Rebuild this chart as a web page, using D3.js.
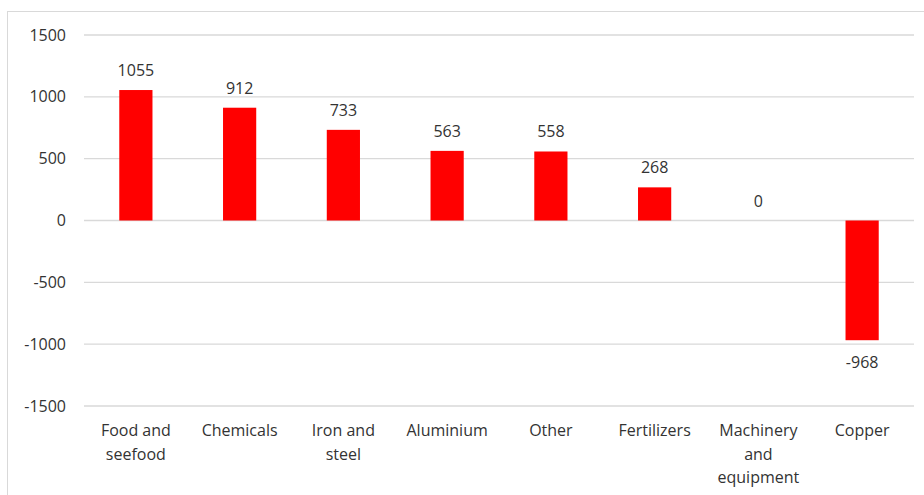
<!DOCTYPE html>
<html>
<head>
<meta charset="utf-8">
<script src="https://cdn.jsdelivr.net/npm/d3@7"></script>
<style>
  html, body { margin: 0; padding: 0; background: #fff; }
  svg { display: block; font-family: "Open Sans", "Noto Sans", sans-serif; }
</style>
</head>
<body>
<svg id="chart" width="924" height="495"></svg>
<script>
// Net change by product group
const categories = [
  ["Food and", "seefood"],
  ["Chemicals"],
  ["Iron and", "steel"],
  ["Aluminium"],
  ["Other"],
  ["Fertilizers"],
  ["Machinery", "and", "equipment"],
  ["Copper"]
];
const values = [1055, 912, 733, 563, 558, 268, 0, -968];
const yTicks = [-1500, -1000, -500, 0, 500, 1000, 1500];

const svg = d3.select("#chart");
const W = 924, H = 495;
const plotLeft = 84, plotRight = 914, plotTop = 35, plotBottom = 406;
const fontSize = 16;
const textColor = "#333";

// chart area frame
svg.append("rect")
  .attr("x", 7.5).attr("y", 11.5)
  .attr("width", W).attr("height", H)
  .attr("fill", "#fff").attr("stroke", "#d9d9d9").attr("stroke-width", 1);

const x = d3.scaleBand()
  .domain(d3.range(categories.length))
  .range([plotLeft, plotRight])
  .paddingInner(0.68)
  .paddingOuter(0.34);

const y = d3.scaleLinear().domain([-1500, 1500]).range([plotBottom, plotTop]);

// gridlines
svg.append("g")
  .selectAll("line")
  .data(yTicks)
  .join("line")
  .attr("x1", plotLeft).attr("x2", plotRight)
  .attr("y1", d => y(d)).attr("y2", d => y(d))
  .attr("stroke", "#d9d9d9").attr("stroke-width", 1.3);

// y axis labels (plain hyphen for negatives)
const yAxis = d3.axisLeft(y).tickValues(yTicks).tickSize(0).tickPadding(0).tickFormat(d => String(d));
const yg = svg.append("g").attr("transform", `translate(${plotLeft - 18},0)`).call(yAxis);
yg.select(".domain").remove();
yg.selectAll("text")
  .attr("font-size", fontSize)
  .attr("font-family", "'Open Sans', 'Noto Sans', sans-serif")
  .attr("fill", textColor);

// bars
svg.append("g")
  .selectAll("rect")
  .data(values)
  .join("rect")
  .attr("x", (d, i) => x(i))
  .attr("width", x.bandwidth())
  .attr("y", d => y(Math.max(0, d)))
  .attr("height", d => Math.abs(y(d) - y(0)))
  .attr("fill", "#ff0000");

// value labels
svg.append("g")
  .selectAll("text")
  .data(values)
  .join("text")
  .attr("x", (d, i) => x(i) + x.bandwidth() / 2)
  .attr("y", d => d >= 0 ? y(d) - 14 : y(d) + 28)
  .attr("text-anchor", "middle")
  .attr("font-size", fontSize)
  .attr("fill", textColor)
  .text(d => d);

// category labels
const xl = svg.append("g")
  .selectAll("text")
  .data(categories)
  .join("text")
  .attr("x", (d, i) => x(i) + x.bandwidth() / 2)
  .attr("y", 436)
  .attr("text-anchor", "middle")
  .attr("font-size", fontSize)
  .attr("fill", textColor);
xl.selectAll("tspan")
  .data(d => d)
  .join("tspan")
  .attr("x", function() { return d3.select(this.parentNode).attr("x"); })
  .attr("dy", (d, i) => i === 0 ? 0 : 23.5)
  .text(d => d);
</script>
</body>
</html>
